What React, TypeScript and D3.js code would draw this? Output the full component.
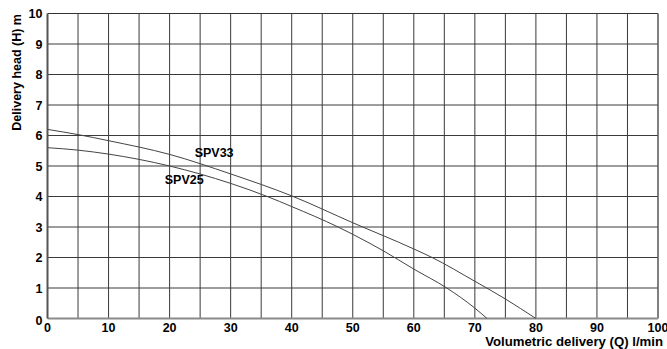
import React, { useRef, useEffect } from 'react';
import * as d3 from 'd3';

const flowQ33 = [0, 5, 10, 20, 30, 40, 50, 60, 63, 70, 75, 80];
const headH33 = [6.2, 6.03, 5.83, 5.38, 4.74, 4.02, 3.14, 2.28, 2.0, 1.22, 0.64, 0];
const flowQ25 = [0, 5, 10, 20, 30, 36, 40, 47.6, 50, 55, 60, 65.4, 70, 72];
const headH25 = [5.6, 5.52, 5.39, 5.0, 4.43, 4.0, 3.67, 3.0, 2.76, 2.22, 1.62, 1.0, 0.34, 0];

const xTicks = [0, 10, 20, 30, 40, 50, 60, 70, 80, 90, 100];
const yTicks = [0, 1, 2, 3, 4, 5, 6, 7, 8, 9, 10];
const seriesNames = ['SPV33', 'SPV25'];
const labelQ = [24.1, 19.2];
const labelH = [5.29, 4.41];

function PumpChart({ width = 667, height = 349 }) {
  const svgRef = useRef<SVGSVGElement>(null);

  useEffect(() => {
    const margin = { top: 13.5, right: 9, bottom: 30.5, left: 47.5 };
    const innerWidth = width - margin.left - margin.right;
    const innerHeight = height - margin.top - margin.bottom;
    const font = '"Liberation Sans", Arial, sans-serif';

    const svg = d3.select(svgRef.current);
    svg.selectAll('*').remove();

    const xScale = d3.scaleLinear().domain([0, 100]).range([0, innerWidth]);
    const yScale = d3.scaleLinear().domain([0, 10]).range([innerHeight, 0]);

    const g = svg.append('g')
      .attr('transform', `translate(${margin.left}, ${margin.top})`);

    // Grid
    g.append('g')
      .selectAll('line')
      .data(d3.range(5, 100, 5))
      .enter()
      .append('line')
      .attr('x1', d => xScale(d))
      .attr('x2', d => xScale(d))
      .attr('y1', 0)
      .attr('y2', innerHeight)
      .attr('stroke', '#3a3a3a')
      .attr('stroke-width', 1);

    g.append('g')
      .selectAll('line')
      .data(yTicks.filter(d => d > 0 && d < 10))
      .enter()
      .append('line')
      .attr('x1', 0)
      .attr('x2', innerWidth)
      .attr('y1', d => yScale(d))
      .attr('y2', d => yScale(d))
      .attr('stroke', '#3a3a3a')
      .attr('stroke-width', 1);

    // Frame
    g.append('line')
      .attr('x1', 0).attr('x2', innerWidth)
      .attr('y1', yScale(10)).attr('y2', yScale(10))
      .attr('stroke', '#333').attr('stroke-width', 1.2);
    g.append('line')
      .attr('x1', xScale(100)).attr('x2', xScale(100))
      .attr('y1', 0).attr('y2', innerHeight)
      .attr('stroke', '#555').attr('stroke-width', 1.5);
    g.append('line')
      .attr('x1', 0).attr('x2', innerWidth)
      .attr('y1', innerHeight).attr('y2', innerHeight)
      .attr('stroke', '#8a8a8a').attr('stroke-width', 2);
    g.append('line')
      .attr('x1', 0).attr('x2', 0)
      .attr('y1', 0).attr('y2', innerHeight)
      .attr('stroke', '#555').attr('stroke-width', 2);

    // Tick labels
    g.append('g')
      .selectAll('text')
      .data(xTicks)
      .enter()
      .append('text')
      .attr('x', d => xScale(d))
      .attr('y', innerHeight + 13)
      .attr('text-anchor', 'middle')
      .attr('font-family', font)
      .attr('font-weight', 'bold')
      .attr('font-size', 12.5)
      .attr('fill', '#000')
      .text(d => d);

    g.append('g')
      .selectAll('text')
      .data(yTicks)
      .enter()
      .append('text')
      .attr('x', -5)
      .attr('y', d => yScale(d) + 4.5 - (d === 0 ? -1.5 : 0))
      .attr('text-anchor', 'end')
      .attr('font-family', font)
      .attr('font-weight', 'bold')
      .attr('font-size', 12.5)
      .attr('fill', '#000')
      .text(d => d);

    // Axis labels
    svg.append('text')
      .attr('transform', 'rotate(-90)')
      .attr('x', -14)
      .attr('y', 21)
      .attr('text-anchor', 'end')
      .attr('font-family', font)
      .attr('font-weight', 'bold')
      .attr('font-size', 12.5)
      .attr('fill', '#000')
      .text('Delivery head (H) m');

    svg.append('text')
      .attr('x', 663)
      .attr('y', 346)
      .attr('text-anchor', 'end')
      .attr('font-family', font)
      .attr('font-weight', 'bold')
      .attr('font-size', 13.2)
      .attr('fill', '#000')
      .text('Volumetric delivery (Q) l/min');

    // Curves
    const line = d3.line<[number, number]>()
      .x(d => xScale(d[0]))
      .y(d => yScale(d[1]))
      .curve(d3.curveMonotoneX);

    const curves: [number, number][][] = [
      flowQ33.map((q, i) => [q, headH33[i]]),
      flowQ25.map((q, i) => [q, headH25[i]]),
    ];

    g.selectAll('path.curve')
      .data(curves)
      .enter()
      .append('path')
      .attr('class', 'curve')
      .attr('d', d => line(d))
      .attr('fill', 'none')
      .attr('stroke', '#444')
      .attr('stroke-width', 1);

    g.selectAll('text.series')
      .data(seriesNames)
      .enter()
      .append('text')
      .attr('class', 'series')
      .attr('x', (d, i) => xScale(labelQ[i]))
      .attr('y', (d, i) => yScale(labelH[i]))
      .attr('font-family', font)
      .attr('font-weight', 'bold')
      .attr('font-size', 12.5)
      .attr('fill', '#000')
      .text(d => d);
  }, [width, height]);

  return (
    <svg
      ref={svgRef}
      width={width}
      height={height}
      style={{ position: 'absolute', left: 0, top: 0, display: 'block', background: '#fff' }}
    />
  );
}

export default function App() {
  return <PumpChart />;
}
